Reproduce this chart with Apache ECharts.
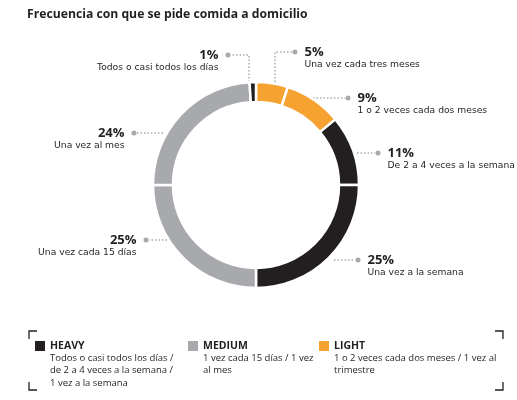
<!DOCTYPE html>
<html>
<head>
<meta charset="utf-8">
<script src="https://cdn.jsdelivr.net/npm/echarts@6/dist/echarts.min.js"></script>
<style>
html, body { margin: 0; padding: 0; background: #fff; }
#main { width: 517px; height: 400px; }
</style>
</head>
<body>
<div id="main"></div>
<script>
// slices, clockwise from 12 o'clock
var categories = ['Una vez cada tres meses', '1 o 2 veces cada dos meses', 'De 2 a 4 veces a la semana',
    'Una vez a la semana', 'Una vez cada 15 días', 'Una vez al mes', 'Todos o casi todos los días'];
var values = [5, 9, 11, 25, 25, 24, 1];
var sliceGroup = [2, 2, 0, 0, 1, 1, 0];

var groups = ['HEAVY', 'MEDIUM', 'LIGHT'];
var groupNotes = [
    'Todos o casi todos los días /\nde 2 a 4 veces a la semana /\n1 vez a la semana',
    '1 vez cada 15 días / 1 vez\nal mes',
    '1 o 2 veces cada dos meses / 1 vez al\ntrimestre'
];
var groupColors = ['#231f20', '#a7a9ac', '#f6a230'];

// leader line layout per slice (pixels): dot centre + polyline from ring to dot
var leaders = [
    {side: 'right', dot: [295, 52],  line: [[275, 82], [275, 52], [292, 52]]},
    {side: 'right', dot: [348, 98],  line: [[313, 98], [330, 98], [345, 98]]},
    {side: 'right', dot: [378, 153], line: [[357, 153], [367, 153], [375, 153]]},
    {side: 'right', dot: [358, 260], line: [[334, 260], [346, 260], [355, 260]]},
    {side: 'left',  dot: [146, 240], line: [[167, 240], [158, 240], [149, 240]]},
    {side: 'left',  dot: [134, 133], line: [[163, 133], [150, 133], [137, 133]]},
    {side: 'left',  dot: [228, 55],  line: [[249, 82], [249, 55], [231, 55]]}
];

var ink = '#231f20';
var myChart = echarts.init(document.getElementById('main'));

var pieData = categories.map(function (name, i) {
    return {value: values[i], name: name, itemStyle: {color: groupColors[sliceGroup[i]]}};
});

var graphics = [];
// legend frame corners
var fx0 = 29, fx1 = 503, fy0 = 331, fy1 = 390, arm = 8;
[[[fx0, fy0 + arm], [fx0, fy0], [fx0 + arm, fy0]],
 [[fx1 - arm, fy0], [fx1, fy0], [fx1, fy0 + arm]],
 [[fx0, fy1 - arm], [fx0, fy1], [fx0 + arm, fy1]],
 [[fx1 - arm, fy1], [fx1, fy1], [fx1, fy1 - arm]]].forEach(function (pts) {
    graphics.push({type: 'polyline', shape: {points: pts}, style: {stroke: ink, lineWidth: 1.3, fill: null}});
});
var legendX = [35, 188, 319];
groups.forEach(function (g, i) {
    graphics.push({type: 'rect', shape: {x: legendX[i], y: 341, width: 10, height: 10}, style: {fill: groupColors[i]}});
    graphics.push({type: 'text', x: legendX[i] + 15, y: 346, style: {
        text: g, fill: ink, font: 'bold 10.5px "Open Sans"', textVerticalAlign: 'middle'}});
    graphics.push({type: 'text', x: legendX[i] + 15, y: 352, style: {
        text: groupNotes[i], fill: ink, font: '9.5px "Open Sans"', lineHeight: 12.5, textVerticalAlign: 'top'}});
});

option = {
    backgroundColor: '#fff',
    title: {
        text: 'Frecuencia con que se pide comida a domicilio',
        left: 27,
        top: 9,
        padding: 0,
        textStyle: {fontFamily: 'Open Sans', fontSize: 12.2, fontWeight: 'bold', color: ink}
    },
    graphic: graphics,
    series: [
        {
            type: 'pie',
            center: [256, 185],
            radius: [83, 103],
            startAngle: 90,
            clockwise: true,
            avoidLabelOverlap: false,
            emphasis: {disabled: true},
            itemStyle: {borderColor: '#fff', borderWidth: 2.5},
            label: {
                show: true,
                position: 'outside',
                formatter: function (p) {
                    var pct = p.value + '%';
                    if (leaders[p.dataIndex].side === 'right') {
                        return '{dot| }{g| }{p|' + pct + '}\n{sp| }{d|' + p.name + '}';
                    }
                    return '{p|' + pct + '}{g| }{dot| }\n{d|' + p.name + '}{sp| }';
                },
                rich: {
                    dot: {width: 5, height: 5, borderRadius: 2.5, backgroundColor: '#a7a9ac', verticalAlign: 'middle'},
                    g: {width: 7, verticalAlign: 'middle'},
                    sp: {width: 12},
                    p: {fontFamily: 'Open Sans', fontWeight: 'bold', fontSize: 13, color: ink, lineHeight: 14, verticalAlign: 'middle'},
                    d: {fontFamily: 'DejaVu Sans', fontSize: 9.2, color: ink, lineHeight: 12}
                }
            },
            labelLine: {
                show: true,
                lineStyle: {color: '#a7a9ac', width: 1.5, type: [1.5, 2]}
            },
            labelLayout: function (params) {
                var L = leaders[params.dataIndex];
                var right = L.side === 'right';
                return {
                    x: right ? L.dot[0] - 2.5 : L.dot[0] + 2.5,
                    y: L.dot[1] - 7,
                    align: right ? 'left' : 'right',
                    verticalAlign: 'top',
                    labelLinePoints: L.line
                };
            },
            data: pieData
        }
    ]
};

myChart.setOption(option);
</script>
</body>
</html>
